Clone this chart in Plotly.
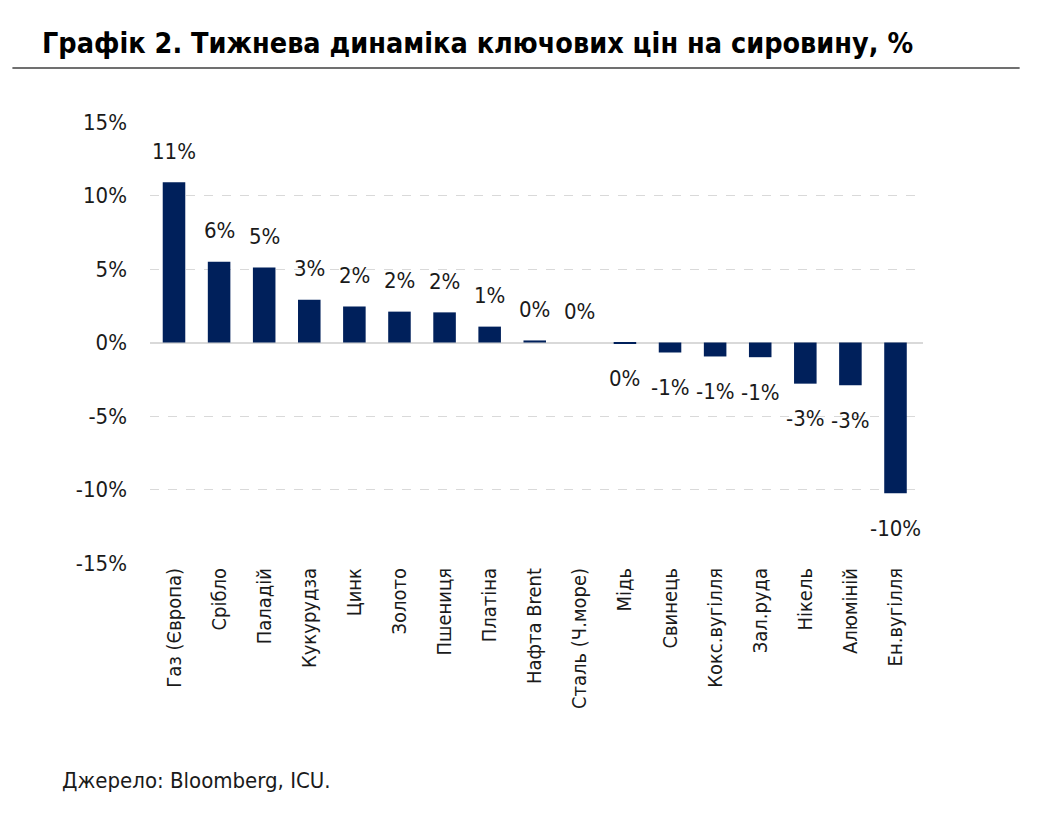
import math
import plotly.graph_objects as go

categories = ["Газ (Європа)", "Срібло", "Паладій", "Кукурудза", "Цинк", "Золото",
              "Пшениця", "Платіна", "Нафта Brent", "Сталь (Ч.море)", "Мідь", "Свинець",
              "Кокс.вугілля", "Зал.руда", "Нікель", "Алюміній", "Ен.вугілля"]
values = [10.9, 5.5, 5.1, 2.9, 2.45, 2.1, 2.05, 1.08, 0.14, 0.0, -0.1, -0.68,
          -0.95, -1.0, -2.8, -2.9, -10.25]
tick_vals = [-15, -10, -5, 0, 5, 10, 15]
tick_text = ["-15%", "-10%", "-5%", "0%", "5%", "10%", "15%"]
title_text = "Графік 2. Тижнева динаміка ключових цін на сировину, %"
source_text = "Джерело: Bloomberg, ICU."

FONT = "Liberation Sans Narrow, Arial Narrow, DejaVu Sans Condensed, sans-serif"
NAVY = "#00205B"

fig = go.Figure()
fig.add_trace(go.Bar(x=categories, y=values, marker=dict(color=NAVY, line=dict(width=0)),
                     width=0.5, showlegend=False))

for c, v in zip(categories, values):
    pos = v >= 0
    fig.add_annotation(x=c, y=v, text=f"{int(math.floor(v + 0.5))}%", showarrow=False,
                       yanchor="middle", yshift=31 if pos else -35,
                       font=dict(family=FONT, size=22, color="#1a1a1a"))

fig.add_annotation(xref="paper", yref="paper", x=-0.142, y=1.0, xanchor="left", yanchor="bottom",
                   yshift=60, text="<b>" + title_text + "</b>", showarrow=False,
                   font=dict(family=FONT, size=28.5, color="#000000"))
fig.add_shape(type="line", xref="paper", yref="paper", x0=-0.178, x1=1.125, y0=1.1224, y1=1.1224,
              line=dict(color="#404040", width=1.5))
fig.add_annotation(xref="paper", yref="paper", x=-0.116, y=0, xanchor="left", yanchor="middle",
                   yshift=-217, text=source_text, showarrow=False,
                   font=dict(family=FONT, size=22, color="#1a1a1a"))

fig.update_layout(
    width=1044, height=826,
    margin=dict(l=150, r=121, t=122, b=263),
    plot_bgcolor="white", paper_bgcolor="white",
    font=dict(family=FONT, size=21, color="#1a1a1a"),
    bargap=0.5,
)
fig.update_xaxes(tickangle=-90, showgrid=False, showline=False, ticks="",
                 tickfont=dict(family=FONT, size=20, color="#1a1a1a"))
fig.update_yaxes(range=[-15, 15], tickvals=tick_vals, ticktext=tick_text,
                 showgrid=True, gridcolor="#d9d9d9", griddash="dash", gridwidth=1,
                 zeroline=True, zerolinecolor="#d9d9d9", zerolinewidth=2,
                 showline=False, ticks="", ticklabelstandoff=22,
                 tickfont=dict(family=FONT, size=22, color="#1a1a1a"))

fig.write_html("out.html")
